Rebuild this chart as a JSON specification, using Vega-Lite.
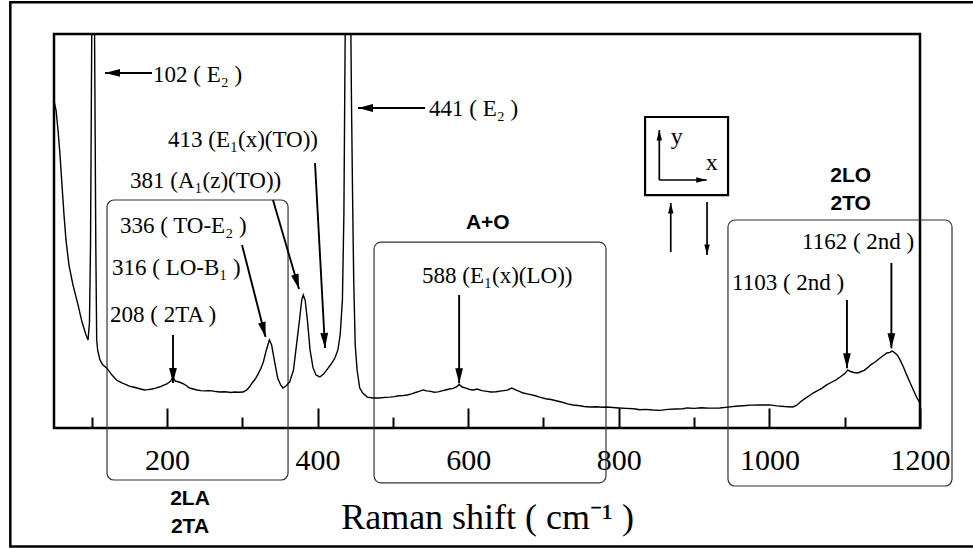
{
  "$schema": "https://vega.github.io/schema/vega-lite/v6.json",
  "width": 866,
  "height": 394,
  "autosize": {"type": "none"},
  "padding": {"left": 54, "top": 34, "right": 53, "bottom": 120},
  "background": "white",
  "config": {"view": {"stroke": "black", "strokeWidth": 2.5}},
  "datasets": {
    "frame": [{"x": -8, "x2": 1300, "y": 2597.6, "y2": -762}],
    "groups": [
      {"x": 120.4, "x2": 360.8, "y": 1376.6, "y2": -352},
      {"x": 475, "x2": 783, "y": 1117, "y2": -370},
      {"x": 945, "x2": 1242.5, "y": 1253, "y2": -389}
    ],
    "inset": [{"x": 834.9, "x2": 945.1, "y": 1889, "y2": 1407}],
    "spectrum": [
      {"x": 50, "y": 1988}, {"x": 52.7, "y": 1932}, {"x": 55.3, "y": 1809}, {"x": 58, "y": 1654},
      {"x": 60.6, "y": 1469}, {"x": 63.3, "y": 1284}, {"x": 65.9, "y": 1130}, {"x": 69.9, "y": 975},
      {"x": 75.2, "y": 852}, {"x": 81.9, "y": 729}, {"x": 87.2, "y": 623}, {"x": 92.5, "y": 543},
      {"x": 95.2, "y": 512}, {"x": 97.1, "y": 620}, {"x": 98.5, "y": 1100}, {"x": 99.5, "y": 1900},
      {"x": 100.5, "y": 2700}, {"x": 102, "y": 3600}, {"x": 103.5, "y": 2700}, {"x": 104.5, "y": 1900},
      {"x": 105.5, "y": 1100}, {"x": 106.7, "y": 512}, {"x": 108, "y": 450}, {"x": 111, "y": 389},
      {"x": 115, "y": 358}, {"x": 120, "y": 340}, {"x": 127, "y": 296}, {"x": 133, "y": 265},
      {"x": 140, "y": 247}, {"x": 145, "y": 238}, {"x": 150, "y": 228}, {"x": 155, "y": 222},
      {"x": 160, "y": 216}, {"x": 165, "y": 210}, {"x": 170, "y": 204}, {"x": 175, "y": 206},
      {"x": 180, "y": 210}, {"x": 185, "y": 215}, {"x": 190, "y": 222}, {"x": 195, "y": 232},
      {"x": 200, "y": 241}, {"x": 205, "y": 259}, {"x": 208, "y": 284}, {"x": 211, "y": 259},
      {"x": 216, "y": 253}, {"x": 222, "y": 241}, {"x": 226, "y": 230}, {"x": 230, "y": 216},
      {"x": 235, "y": 210}, {"x": 240, "y": 204}, {"x": 245, "y": 200}, {"x": 250, "y": 198},
      {"x": 255, "y": 200}, {"x": 260, "y": 198}, {"x": 265, "y": 194}, {"x": 270, "y": 191},
      {"x": 275, "y": 193}, {"x": 280, "y": 191}, {"x": 285, "y": 188}, {"x": 290, "y": 191},
      {"x": 295, "y": 190}, {"x": 301, "y": 191}, {"x": 306, "y": 204}, {"x": 310, "y": 225},
      {"x": 313, "y": 247}, {"x": 317, "y": 270}, {"x": 321, "y": 302}, {"x": 325, "y": 340},
      {"x": 328, "y": 377}, {"x": 332, "y": 451}, {"x": 336, "y": 512}, {"x": 339, "y": 481},
      {"x": 343, "y": 377}, {"x": 347, "y": 278}, {"x": 351, "y": 235}, {"x": 354, "y": 216},
      {"x": 358, "y": 228}, {"x": 363, "y": 253}, {"x": 368, "y": 327}, {"x": 372, "y": 481},
      {"x": 376, "y": 636}, {"x": 379, "y": 759}, {"x": 381, "y": 790}, {"x": 383.5, "y": 759},
      {"x": 386.5, "y": 636}, {"x": 390, "y": 451}, {"x": 394, "y": 340}, {"x": 398, "y": 296},
      {"x": 403, "y": 284}, {"x": 408, "y": 302}, {"x": 413, "y": 333}, {"x": 418, "y": 364},
      {"x": 423, "y": 401}, {"x": 427, "y": 451}, {"x": 430, "y": 543}, {"x": 433, "y": 759},
      {"x": 435, "y": 1300}, {"x": 436.5, "y": 2300}, {"x": 438, "y": 3000}, {"x": 441, "y": 3600},
      {"x": 443.5, "y": 2800}, {"x": 445, "y": 2000}, {"x": 446.5, "y": 1400}, {"x": 448, "y": 883},
      {"x": 450, "y": 481}, {"x": 452.5, "y": 327}, {"x": 456, "y": 216}, {"x": 460, "y": 185},
      {"x": 466, "y": 160}, {"x": 474, "y": 154}, {"x": 482, "y": 154}, {"x": 490, "y": 158},
      {"x": 496, "y": 160}, {"x": 502, "y": 163}, {"x": 508, "y": 168}, {"x": 514, "y": 170},
      {"x": 519, "y": 173}, {"x": 525, "y": 180}, {"x": 530, "y": 188}, {"x": 535, "y": 195},
      {"x": 540, "y": 204}, {"x": 545, "y": 198}, {"x": 550, "y": 195}, {"x": 555, "y": 190},
      {"x": 560, "y": 192}, {"x": 565, "y": 198}, {"x": 570, "y": 204}, {"x": 575, "y": 210},
      {"x": 580, "y": 214}, {"x": 585, "y": 225}, {"x": 588, "y": 238}, {"x": 592, "y": 222},
      {"x": 597, "y": 215}, {"x": 602, "y": 207}, {"x": 607, "y": 204}, {"x": 612, "y": 210},
      {"x": 618, "y": 200}, {"x": 625, "y": 195}, {"x": 630, "y": 191}, {"x": 637, "y": 193},
      {"x": 645, "y": 198}, {"x": 652, "y": 203}, {"x": 658, "y": 216}, {"x": 663, "y": 205},
      {"x": 668, "y": 195}, {"x": 673, "y": 185}, {"x": 680, "y": 178}, {"x": 688, "y": 170},
      {"x": 695, "y": 160}, {"x": 703, "y": 150}, {"x": 710, "y": 145}, {"x": 718, "y": 136},
      {"x": 725, "y": 128}, {"x": 732, "y": 118}, {"x": 739, "y": 111}, {"x": 746, "y": 108},
      {"x": 754, "y": 102}, {"x": 762, "y": 99}, {"x": 770, "y": 100}, {"x": 778, "y": 97},
      {"x": 784, "y": 99}, {"x": 792, "y": 96}, {"x": 800, "y": 93}, {"x": 810, "y": 90},
      {"x": 820, "y": 88}, {"x": 828, "y": 82}, {"x": 836, "y": 84}, {"x": 845, "y": 80},
      {"x": 855, "y": 78}, {"x": 865, "y": 84}, {"x": 875, "y": 86}, {"x": 885, "y": 88},
      {"x": 891, "y": 93}, {"x": 900, "y": 90}, {"x": 910, "y": 94}, {"x": 920, "y": 92},
      {"x": 934, "y": 93}, {"x": 945, "y": 98}, {"x": 955, "y": 103}, {"x": 965, "y": 106},
      {"x": 975, "y": 110}, {"x": 988, "y": 111}, {"x": 1000, "y": 112}, {"x": 1010, "y": 106},
      {"x": 1020, "y": 102}, {"x": 1031, "y": 99}, {"x": 1036, "y": 108}, {"x": 1041, "y": 130},
      {"x": 1047, "y": 150}, {"x": 1052, "y": 165}, {"x": 1058, "y": 185}, {"x": 1064, "y": 200},
      {"x": 1070, "y": 215}, {"x": 1076, "y": 235}, {"x": 1082, "y": 250}, {"x": 1088, "y": 265},
      {"x": 1094, "y": 284}, {"x": 1100, "y": 305}, {"x": 1104, "y": 327}, {"x": 1108, "y": 318},
      {"x": 1112, "y": 312}, {"x": 1117, "y": 309}, {"x": 1122, "y": 318}, {"x": 1126, "y": 325},
      {"x": 1130, "y": 340}, {"x": 1135, "y": 360}, {"x": 1140, "y": 375}, {"x": 1147, "y": 401},
      {"x": 1152, "y": 418}, {"x": 1156, "y": 432}, {"x": 1160, "y": 436}, {"x": 1163, "y": 444},
      {"x": 1166, "y": 435}, {"x": 1170, "y": 418}, {"x": 1174, "y": 385}, {"x": 1178, "y": 346},
      {"x": 1182, "y": 300}, {"x": 1187, "y": 247}, {"x": 1191, "y": 205}, {"x": 1196, "y": 154},
      {"x": 1200, "y": 123}
    ],
    "arrows": [
      {"x": 117.7, "y": 2161, "x2": 180.1, "y2": 2161},
      {"x": 453.7, "y": 1944.5, "x2": 542.7, "y2": 1944.5},
      {"x": 409.9, "y": 463, "x2": 396.6, "y2": 1605},
      {"x": 375.4, "y": 827, "x2": 340.8, "y2": 1376.6},
      {"x": 330.9, "y": 531, "x2": 299.7, "y2": 1098.8},
      {"x": 208, "y": 247, "x2": 208, "y2": 543},
      {"x": 588, "y": 245, "x2": 588, "y2": 790},
      {"x": 1103, "y": 338, "x2": 1103, "y2": 759},
      {"x": 1162, "y": 461, "x2": 1162, "y2": 988}
    ],
    "insetArrows": [
      {"x": 869, "y": 1358, "x2": 869, "y2": 1056},
      {"x": 917.2, "y": 1037, "x2": 917.2, "y2": 1364},
      {"x": 853.8, "y": 1808.7, "x2": 853.8, "y2": 1500},
      {"x": 916.8, "y": 1500, "x2": 853.8, "y2": 1500}
    ],
    "notes": [
      {"x": 181.5, "y": 2105, "label": "102 ( E₂ )"},
      {"x": 548, "y": 1895, "label": "441 ( E₂ )"},
      {"x": 201.4, "y": 1704, "label": "413 (E₁(x)(TO))"},
      {"x": 150.9, "y": 1447.6, "label": "381 (A₁(z)(TO))"},
      {"x": 137.6, "y": 1173, "label": "336 ( TO-E₂ )"},
      {"x": 127, "y": 913.6, "label": "316 ( LO-B₁ )"},
      {"x": 124.4, "y": 623.5, "label": "208 ( 2TA )"},
      {"x": 538.7, "y": 864, "label": "588 (E₁(x)(LO))"},
      {"x": 950.4, "y": 821, "label": "1103 ( 2nd )"},
      {"x": 1043.3, "y": 1077, "label": "1162 ( 2nd )"}
    ],
    "groupLabels": [
      {"x": 230.6, "y": -506, "label": "2LA"},
      {"x": 230.6, "y": -679, "label": "2TA"},
      {"x": 626, "y": 1197.6, "label": "A+O"},
      {"x": 1108, "y": 1489.6, "label": "2LO"},
      {"x": 1108, "y": 1314.8, "label": "2TO"}
    ],
    "insetLetters": [
      {"x": 876.9, "y": 1767, "label": "y"},
      {"x": 923.4, "y": 1603, "label": "x"}
    ]
  },
  "encoding": {
    "x": {
      "field": "x",
      "type": "quantitative",
      "scale": {"domain": [50, 1200], "nice": false, "zero": false},
      "axis": null
    },
    "y": {
      "field": "y",
      "type": "quantitative",
      "scale": {"domain": [-30.9, 2401.3], "nice": false, "zero": false},
      "axis": null
    }
  },
  "resolve": {"axis": {"x": "independent"}},
  "layer": [
    {
      "data": {"name": "frame"},
      "mark": {"type": "rect", "fillOpacity": 0, "stroke": "black", "strokeWidth": 2.5, "clip": false},
      "encoding": {"x2": {"field": "x2"}, "y2": {"field": "y2"}}
    },
    {
      "data": {"name": "groups"},
      "mark": {"type": "rect", "fillOpacity": 0, "stroke": "#333333", "strokeWidth": 1.2, "cornerRadius": 7, "clip": false},
      "encoding": {"x2": {"field": "x2"}, "y2": {"field": "y2"}}
    },
    {
      "data": {"name": "inset"},
      "mark": {"type": "rect", "fillOpacity": 0, "stroke": "black", "strokeWidth": 2.2, "clip": false},
      "encoding": {"x2": {"field": "x2"}, "y2": {"field": "y2"}}
    },
    {
      "data": {"name": "spectrum"},
      "mark": {"type": "point", "opacity": 0},
      "encoding": {
        "x": {
          "field": "x",
          "type": "quantitative",
          "scale": {"domain": [50, 1200], "nice": false, "zero": false},
          "axis": {
            "orient": "bottom",
            "values": [100, 300, 500, 700, 900, 1100],
            "tickSize": -11,
            "tickWidth": 2,
            "tickColor": "black",
            "labels": false,
            "domain": false,
            "grid": false,
            "title": null
          }
        }
      }
    },
    {
      "data": {"name": "spectrum"},
      "mark": {"type": "line", "color": "black", "strokeWidth": 1.4, "clip": true, "interpolate": "linear"},
      "encoding": {
        "x": {
          "field": "x",
          "type": "quantitative",
          "scale": {"domain": [50, 1200], "nice": false, "zero": false},
          "axis": {
            "orient": "bottom",
            "values": [200, 400, 600, 800, 1000, 1200],
            "format": "d",
            "tickSize": -20,
            "tickWidth": 2,
            "tickColor": "black",
            "domain": false,
            "grid": false,
            "labelFont": "Liberation Serif",
            "labelFontSize": 30,
            "labelColor": "black",
            "labelPadding": 37,
            "labelFlush": false,
            "labelOverlap": false,
            "title": "Raman shift ( cm⁻¹ )",
            "titleFont": "Liberation Serif",
            "titleFontSize": 36,
            "titleFontWeight": "normal",
            "titleColor": "black",
            "titlePadding": 25
          }
        },
        "y": {
          "field": "y",
          "type": "quantitative",
          "scale": {"domain": [-30.9, 2401.3], "nice": false, "zero": false},
          "axis": {
            "values": [1000, 2000],
            "tickSize": -18,
            "tickWidth": 2,
            "tickColor": "black",
            "labels": false,
            "domain": false,
            "grid": false,
            "title": null
          }
        }
      }
    },
    {
      "data": {"name": "arrows"},
      "mark": {"type": "rule", "color": "black", "strokeWidth": 1.9, "clip": false},
      "encoding": {"x2": {"field": "x2"}, "y2": {"field": "y2"}}
    },
    {
      "data": {"name": "arrows"},
      "transform": [
        {"calculate": "atan2((datum.x - datum.x2) * 0.75304, (datum.y - datum.y2) * 0.16199) * 180 / PI", "as": "angle"}
      ],
      "mark": {"type": "point", "shape": "M0,0L-0.65,2.5L0.65,2.5Z", "filled": true, "color": "black", "size": 144, "opacity": 1, "clip": false},
      "encoding": {"angle": {"field": "angle", "type": "quantitative", "scale": null}}
    },
    {
      "data": {"name": "insetArrows"},
      "mark": {"type": "rule", "color": "black", "strokeWidth": 1.7, "clip": false},
      "encoding": {"x2": {"field": "x2"}, "y2": {"field": "y2"}}
    },
    {
      "data": {"name": "insetArrows"},
      "transform": [
        {"calculate": "atan2((datum.x - datum.x2) * 0.75304, (datum.y - datum.y2) * 0.16199) * 180 / PI", "as": "angle"}
      ],
      "mark": {"type": "point", "shape": "M0,0L-0.65,2.5L0.65,2.5Z", "filled": true, "color": "black", "size": 70, "opacity": 1, "clip": false},
      "encoding": {"angle": {"field": "angle", "type": "quantitative", "scale": null}}
    },
    {
      "data": {"name": "notes"},
      "mark": {"type": "text", "font": "Liberation Serif", "fontSize": 23, "color": "black", "align": "left", "baseline": "alphabetic", "clip": false},
      "encoding": {"text": {"field": "label"}}
    },
    {
      "data": {"name": "groupLabels"},
      "mark": {"type": "text", "font": "Liberation Sans", "fontSize": 21, "fontWeight": "bold", "color": "black", "align": "center", "baseline": "alphabetic", "clip": false},
      "encoding": {"text": {"field": "label"}}
    },
    {
      "data": {"name": "insetLetters"},
      "mark": {"type": "text", "font": "Liberation Serif", "fontSize": 24, "color": "black", "align": "center", "baseline": "middle", "clip": false},
      "encoding": {"text": {"field": "label"}}
    }
  ]
}
